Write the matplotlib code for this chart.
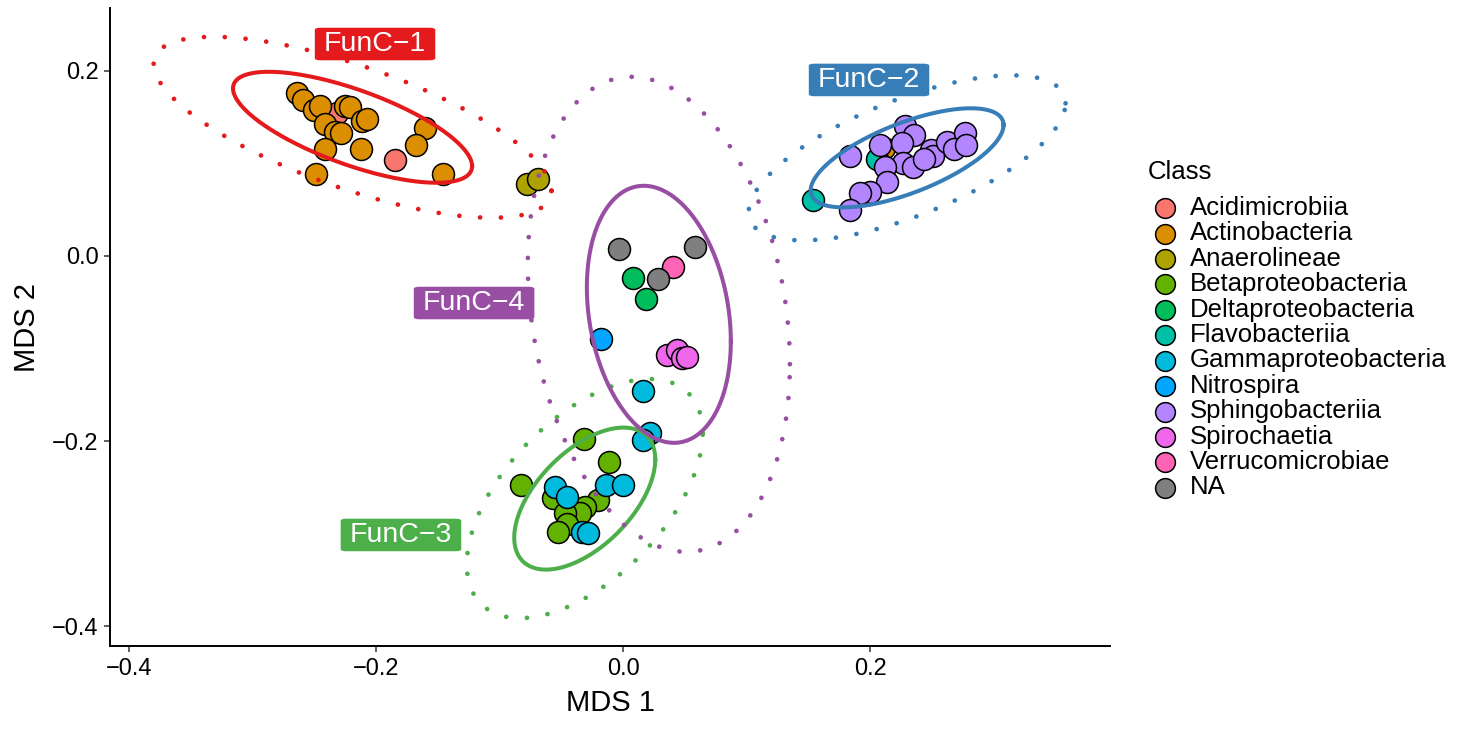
import numpy as np
import matplotlib
matplotlib.use("Agg")
import matplotlib.pyplot as plt

plt.rcParams['font.family'] = ['Liberation Sans', 'DejaVu Sans']

# points per class (MDS 1, MDS 2)
classes = ['Acidimicrobiia', 'Actinobacteria', 'Anaerolineae', 'Betaproteobacteria',
           'Deltaproteobacteria', 'Flavobacteriia', 'Gammaproteobacteria', 'Nitrospira',
           'Sphingobacteriia', 'Spirochaetia', 'Verrucomicrobiae', 'NA']
class_colors = ['#F8766D', '#DB8E00', '#AEA200', '#64B200', '#00BD5C', '#00C1A7',
                '#00BADE', '#00A6FF', '#B385FF', '#EF67EB', '#FF63B6', '#7F7F7F']

acidi_x = [-0.232, -0.185]
acidi_y = [0.154, 0.104]
actino_x = [-0.264, -0.259, -0.250, -0.245, -0.225, -0.221, -0.211, -0.207, -0.241,
            -0.233, -0.228, -0.241, -0.212, -0.160, -0.168, -0.146, -0.249, 0.211]
actino_y = [0.176, 0.168, 0.158, 0.162, 0.162, 0.161, 0.146, 0.148, 0.143,
            0.134, 0.133, 0.116, 0.116, 0.138, 0.120, 0.089, 0.089, 0.117]
anaero_x = [-0.078, -0.069]
anaero_y = [0.078, 0.083]
beta_x = [-0.032, -0.083, -0.011, -0.057, -0.020, -0.031, -0.035, -0.047, -0.045, -0.053]
beta_y = [-0.198, -0.247, -0.223, -0.261, -0.264, -0.271, -0.278, -0.278, -0.289, -0.298]
delta_x = [0.008, 0.019]
delta_y = [-0.024, -0.046]
flavo_x = [0.206, 0.154]
flavo_y = [0.105, 0.060]
gamma_x = [0.016, 0.022, 0.016, -0.055, -0.045, -0.014, 0.000, -0.033, -0.028]
gamma_y = [-0.146, -0.191, -0.199, -0.249, -0.260, -0.247, -0.247, -0.298, -0.299]
nitro_x = [-0.018]
nitro_y = [-0.090]
sphingo_x = [0.228, 0.236, 0.226, 0.208, 0.184, 0.227, 0.235, 0.212, 0.249, 0.251,
             0.244, 0.262, 0.277, 0.268, 0.278, 0.214, 0.200, 0.192, 0.184]
sphingo_y = [0.140, 0.131, 0.122, 0.120, 0.108, 0.100, 0.096, 0.096, 0.114, 0.108,
             0.105, 0.123, 0.133, 0.116, 0.120, 0.080, 0.069, 0.068, 0.050]
spiro_x = [0.036, 0.044, 0.048, 0.052]
spiro_y = [-0.107, -0.102, -0.110, -0.109]
verruco_x = [0.0405]
verruco_y = [-0.012]
na_x = [-0.003, 0.058, 0.028]
na_y = [0.008, 0.010, -0.025]

class_x = [acidi_x, actino_x, anaero_x, beta_x, delta_x, flavo_x, gamma_x, nitro_x,
           sphingo_x, spiro_x, verruco_x, na_x]
class_y = [acidi_y, actino_y, anaero_y, beta_y, delta_y, flavo_y, gamma_y, nitro_y,
           sphingo_y, spiro_y, verruco_y, na_y]

# cluster ellipses: centre, half width, half height, correlation
groups = ['FunC\u22121', 'FunC\u22122', 'FunC\u22123', 'FunC\u22124']
group_colors = ['#E41A1C', '#377EB8', '#4DAF4A', '#984EA3']
ell_cx = [-0.219, 0.230, -0.031, 0.029]
ell_cy = [0.139, 0.106, -0.262, -0.063]
inner_hw = [0.0968, 0.0781, 0.0571, 0.0583]
inner_hh = [0.0599, 0.0535, 0.0767, 0.1388]
outer_hw = [0.1611, 0.1283, 0.0955, 0.1061]
outer_hh = [0.0977, 0.0891, 0.1291, 0.2565]
ell_r = [-0.70, 0.66, 0.55, -0.21]

# label positions
label_x = [-0.2008, 0.1992, -0.1798, -0.1206]
label_y = [0.2289, 0.1901, -0.3013, -0.0508]


def ellipse_path(cx, cy, hw, hh, r, n=300):
    t = np.linspace(0, 2 * np.pi, n)
    x = cx + hw * np.cos(t)
    y = cy + hh * (r * np.cos(t) + np.sqrt(1 - r ** 2) * np.sin(t))
    return x, y


fig = plt.figure(figsize=(14.63, 7.29), dpi=100)
ax = fig.add_axes([110 / 1463, 83 / 729, 1000 / 1463, 638 / 729])

for name, col, xs, ys in zip(classes, class_colors, class_x, class_y):
    ax.scatter(xs, ys, s=250, c=col, edgecolors='black', linewidths=1.1,
               label=name, zorder=3)

for i in range(len(groups)):
    xs, ys = ellipse_path(ell_cx[i], ell_cy[i], inner_hw[i], inner_hh[i], ell_r[i])
    ax.plot(xs, ys, color=group_colors[i], lw=2.9, zorder=4)
    xs, ys = ellipse_path(ell_cx[i], ell_cy[i], outer_hw[i], outer_hh[i], ell_r[i])
    ax.plot(xs, ys, color=group_colors[i], lw=3.4, linestyle=(0, (0.01, 4.4)),
            dash_capstyle='round', zorder=4)

for i in range(len(groups)):
    ax.text(label_x[i], label_y[i], groups[i], color='white', fontsize=20.5,
            ha='center', va='center', zorder=5,
            bbox=dict(boxstyle='round,pad=0.32,rounding_size=0.2',
                      mutation_aspect=0.36, fc=group_colors[i], ec='none'))

ax.set_xlim(-0.4154, 0.3943)
ax.set_ylim(-0.4212, 0.2678)
ax.set_xticks([-0.4, -0.2, 0.0, 0.2])
ax.set_yticks([-0.4, -0.2, 0.0, 0.2])
ax.set_xticklabels(['\u22120.4', '\u22120.2', '0.0', '0.2'])
ax.set_yticklabels(['\u22120.4', '\u22120.2', '0.0', '0.2'])
ax.tick_params(labelsize=17, length=4.3, width=1.1, color='#333333', pad=4,
               labelcolor='black')
for side in ['top', 'right']:
    ax.spines[side].set_visible(False)
for side in ['left', 'bottom']:
    ax.spines[side].set_linewidth(1.4)
ax.set_xlabel('MDS 1', fontsize=21, labelpad=7)
ax.set_ylabel('MDS 2', fontsize=21, labelpad=8)

leg = ax.legend(title='Class', loc='upper left', bbox_to_anchor=(1148 / 1463, 1 - 160 / 729),
                bbox_transform=fig.transFigure, frameon=False, fontsize=18.5,
                title_fontsize=18.5, alignment='left', borderpad=0, borderaxespad=0,
                labelspacing=0.055, handletextpad=0.3, handlelength=1.32,
                markerscale=0.9)
leg._legend_box.sep = 8.6

fig.savefig('out.png', dpi=100)
